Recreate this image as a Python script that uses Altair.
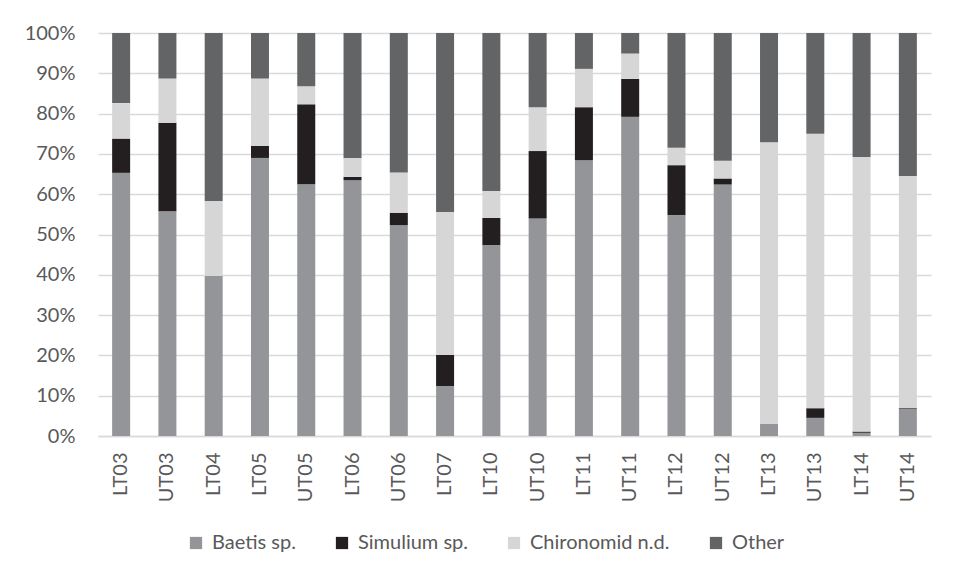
import altair as alt
import pandas as pd

sites = ["LT03", "UT03", "LT04", "LT05", "UT05", "LT06", "UT06", "LT07", "LT10",
         "UT10", "LT11", "UT11", "LT12", "UT12", "LT13", "UT13", "LT14", "UT14"]
baetis = [65.3, 55.8, 39.7, 69.0, 62.5, 63.5, 52.3, 12.4, 47.4,
          54.0, 68.4, 79.2, 54.8, 62.4, 3.0, 4.5, 0.8, 6.8]
simulium = [8.5, 21.9, 0.0, 3.0, 19.8, 0.8, 3.1, 7.7, 6.7,
            16.7, 13.2, 9.4, 12.4, 1.5, 0.0, 2.4, 0.3, 0.2]
chironomid = [8.8, 11.0, 18.6, 16.7, 4.5, 4.7, 10.0, 35.5, 6.7,
              10.9, 9.5, 6.3, 4.3, 4.4, 69.9, 68.1, 68.1, 57.5]
other = [17.4, 11.3, 41.7, 11.3, 13.2, 31.0, 34.6, 44.4, 39.2,
         18.4, 8.9, 5.1, 28.5, 31.7, 27.1, 25.0, 30.8, 35.5]

taxa = ["Baetis sp.", "Simulium sp.", "Chironomid n.d.", "Other"]
colors = ["#939598", "#231f20", "#d6d6d6", "#636466"]

rows = []
for i, s in enumerate(sites):
    for k, (name, vals) in enumerate(zip(taxa, [baetis, simulium, chironomid, other])):
        rows.append({"site": s, "taxon": name, "value": vals[i], "order": k})
df = pd.DataFrame(rows)

FONT = "Lato"
GREY = "#595959"

chart = alt.Chart(df).mark_bar(width=18).encode(
    x=alt.X("site:N", sort=sites, title=None,
            axis=alt.Axis(labelAngle=270, labelPadding=16, ticks=False, tickSize=0,
                          domainColor="#d9d9d9", domainWidth=1.5,
                          labelFontSize=20, labelColor=GREY, labelFont=FONT)),
    y=alt.Y("value:Q", stack="normalize", title=None,
            scale=alt.Scale(domain=[0, 1]),
            axis=alt.Axis(values=[i / 10 for i in range(11)], format=".0%",
                          ticks=False, tickSize=0, domain=False, labelPadding=23,
                          gridColor="#d9d9d9", gridWidth=1.5,
                          labelFontSize=20, labelColor=GREY, labelFont=FONT)),
    color=alt.Color("taxon:N", sort=taxa,
                    scale=alt.Scale(domain=taxa, range=colors),
                    legend=alt.Legend(title=None, orient="none", direction="horizontal",
                                      legendX=88, legendY=500, symbolType="square",
                                      symbolSize=150, symbolStrokeWidth=0,
                                      labelFontSize=20, labelColor=GREY, labelFont=FONT,
                                      columnPadding=36, labelOffset=6)),
    order=alt.Order("order:Q", sort="ascending"),
).properties(
    width=833, height=403,
    autosize=alt.AutoSizeParams(type="none"),
    padding={"left": 90, "top": 25, "right": 17, "bottom": 128},
).configure_view(stroke=None).configure_scale(bandPaddingInner=0.6)

chart.save("out.html", embed_options={"renderer": "svg", "actions": False})
